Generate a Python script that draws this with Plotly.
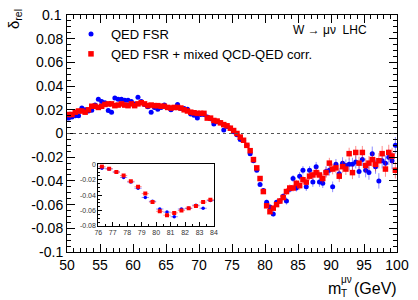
import plotly.graph_objects as go

# bin centres of m_T (GeV), 0.5 GeV bins
mt = [50.25 + 0.5 * i for i in range(100)]

qed_fsr = [
    0.013, 0.014, 0.015, 0.015, 0.0215, 0.020, 0.019, 0.0196, 0.024, 0.029,
    0.027, 0.026, 0.0195, 0.018, 0.030, 0.029, 0.029, 0.028, 0.028, 0.027,
    0.025, 0.0306, 0.027, 0.0245, 0.0225, 0.018, 0.022, 0.0205, 0.022, 0.024,
    0.022, 0.020, 0.022, 0.0245, 0.021, 0.021, 0.0205, 0.0165, 0.0155, 0.013,
    0.016, 0.016, 0.014, 0.0125, 0.008, 0.010, 0.009, 0.003, 0.006, 0.0045,
    0.0015, -0.001, -0.005, -0.006, -0.010, -0.017, -0.023, -0.031, -0.043, -0.048,
    -0.058, -0.062, -0.068, -0.058, -0.057, -0.053, -0.057, -0.047, -0.038, -0.046,
    -0.036, -0.031, -0.045, -0.031, -0.041, -0.028, -0.041, -0.042, -0.032, -0.031,
    -0.045, -0.026, -0.034, -0.025, -0.027, -0.026, -0.026, -0.024, -0.032, -0.022,
    -0.031, -0.033, -0.017, -0.028, -0.040, -0.023, -0.025, -0.020, -0.023, -0.010,
]

qed_fsr_mixed = [
    0.016, 0.016, 0.018, 0.019, 0.019, 0.018, 0.020, 0.023, 0.023, 0.022,
    0.023, 0.0245, 0.025, 0.025, 0.0235, 0.024, 0.025, 0.024, 0.0235, 0.025,
    0.0235, 0.025, 0.026, 0.025, 0.0235, 0.024, 0.0235, 0.0235, 0.023, 0.023,
    0.022, 0.0215, 0.022, 0.022, 0.0215, 0.020, 0.019, 0.018, 0.0175, 0.017,
    0.017, 0.017, 0.013, 0.013, 0.011, 0.0105, 0.009, 0.0075, 0.0065, 0.0045,
    0.0025, 0.000, -0.003, -0.0057, -0.010, -0.0145, -0.022, -0.029, -0.038, -0.049,
    -0.061, -0.066, -0.063, -0.060, -0.057, -0.054, -0.049, -0.046, -0.046, -0.042,
    -0.044, -0.039, -0.041, -0.036, -0.035, -0.033, -0.035, -0.038, -0.033, -0.025,
    -0.030, -0.029, -0.036, -0.028, -0.030, -0.017, -0.033, -0.016, -0.025, -0.016,
    -0.027, -0.025, -0.022, -0.026, -0.023, -0.017, -0.030, -0.016, -0.019, -0.031,
]

# statistical uncertainties
err = [
    0.0015, 0.0015, 0.0015, 0.0015, 0.0015, 0.0015, 0.0015, 0.0015, 0.0015, 0.0015,
    0.0015, 0.0015, 0.0015, 0.0015, 0.0015, 0.0015, 0.0015, 0.0015, 0.0015, 0.0015,
    0.0015, 0.0015, 0.0015, 0.0015, 0.0015, 0.0015, 0.0015, 0.0015, 0.0015, 0.0015,
    0.0015, 0.0015, 0.0015, 0.0015, 0.0015, 0.0015, 0.0015, 0.0015, 0.0015, 0.0015,
    0.0015, 0.0015, 0.0015, 0.0015, 0.0015, 0.0015, 0.0015, 0.0015, 0.0015, 0.0015,
    0.0015, 0.0015, 0.0015, 0.0015, 0.0015, 0.0015, 0.0015, 0.0015, 0.0015, 0.0015,
    0.002, 0.002, 0.002, 0.002, 0.0025, 0.0025, 0.003, 0.003, 0.003, 0.003,
    0.0035, 0.0035, 0.0035, 0.0035, 0.004, 0.004, 0.004, 0.004, 0.0045, 0.0045,
    0.0045, 0.0045, 0.005, 0.005, 0.005, 0.005, 0.0055, 0.0055, 0.0055, 0.0055,
    0.006, 0.006, 0.006, 0.006, 0.0065, 0.0065, 0.0065, 0.0065, 0.007, 0.007,
]

y_ticks = [0.1, 0.08, 0.06, 0.04, 0.02, 0, -0.02, -0.04, -0.06, -0.08, -0.1]
y_tick_text = ["0.1", "0.08", "0.06", "0.04", "0.02", "0", "-0.02", "-0.04", "-0.06", "-0.08", "-0.1"]
x_ticks = [50, 55, 60, 65, 70, 75, 80, 85, 90, 95, 100]
inset_x_ticks = [76, 77, 78, 79, 80, 81, 82, 83, 84]
inset_y_ticks = [0, -0.02, -0.04, -0.06, -0.08]
inset_y_text = ["0", "-0.02", "-0.04", "-0.06", "-0.08"]

FONT = "Liberation Sans, Arial, Helvetica, sans-serif"
BLUE = "#0000ff"
RED = "#ff0000"
BLUE_ERR = "rgba(0,0,255,0.45)"
RED_ERR = "rgba(255,0,0,0.45)"

W, H = 418, 300
# plot area in pixels: x 67..397, y 15..252
L, R, T, B = 67, 418 - 397, 15, 300 - 252
PW, PH = 330, 237


def px(x):
    """pixel x -> paper coordinate"""
    return (x - L) / PW


def py(y):
    """pixel y -> paper coordinate"""
    return (H - B - y) / PH


fig = go.Figure()

for name, vals, col, ecol, sym, size in [
    ("QED FSR", qed_fsr, BLUE, BLUE_ERR, "circle", 5),
    ("QED FSR + mixed QCD-QED corr.", qed_fsr_mixed, RED, RED_ERR, "square", 5.5),
]:
    fig.add_trace(go.Scatter(
        x=mt, y=vals, mode="markers", name=name,
        marker=dict(color=col, symbol=sym, size=size, line=dict(width=0)),
        error_y=dict(type="data", array=err, color=ecol, thickness=1, width=0, visible=True),
        error_x=dict(type="constant", value=0.25, color=ecol, thickness=1, width=0, visible=True),
    ))

# inset: same data zoomed to 76-84 GeV
for vals, col, ecol, sym, size in [
    (qed_fsr, BLUE, BLUE_ERR, "circle", 3.5),
    (qed_fsr_mixed, RED, RED_ERR, "square", 4),
]:
    fig.add_trace(go.Scatter(
        x=mt, y=vals, mode="markers", showlegend=False,
        marker=dict(color=col, symbol=sym, size=size, line=dict(width=0)),
        error_x=dict(type="constant", value=0.25, color=ecol, thickness=1, width=0),
        xaxis="x2", yaxis="y2",
    ))

# zero line
fig.add_shape(type="line", xref="x", yref="y", x0=50, x1=100, y0=0, y1=0,
              line=dict(color="#555555", width=1, dash="3px,3px"))

# the top tick label is written as a paper-anchored annotation (plotly drops the range-end label)
main_tick_text = [""] + y_tick_text[1:]

fig.update_layout(
    width=W, height=H,
    margin=dict(l=L, r=R, t=T, b=B, autoexpand=False),
    paper_bgcolor="white", plot_bgcolor="white",
    font=dict(family=FONT, size=13, color="black"),
    showlegend=True,
    legend=dict(x=px(71), y=py(19), xanchor="left", yanchor="top",
                bgcolor="rgba(0,0,0,0)", font=dict(size=13, family=FONT),
                itemwidth=30, tracegroupgap=0),
    xaxis=dict(domain=[0, 1], range=[50, 100], tickvals=x_ticks,
               ticks="inside", ticklen=8, tickwidth=1, tickcolor="black",
               showline=True, linecolor="black", linewidth=1, mirror="allticks",
               showgrid=False, zeroline=False, tickfont=dict(size=14),
               minor=dict(dtick=1, ticks="inside", ticklen=4, tickcolor="black", showgrid=False)),
    yaxis=dict(domain=[0, 1], range=[-0.1, 0.1], tickvals=y_ticks, ticktext=main_tick_text,
               ticks="inside", ticklen=8, tickwidth=1, tickcolor="black",
               showline=True, linecolor="black", linewidth=1, mirror="allticks",
               showgrid=False, zeroline=False, tickfont=dict(size=14),
               minor=dict(dtick=0.005, tick0=0, ticks="inside", ticklen=4, tickcolor="black", showgrid=False)),
    xaxis2=dict(domain=[px(98.3), px(214)], anchor="y2", range=[76, 84], tickvals=inset_x_ticks,
                ticks="inside", ticklen=4, tickcolor="black", showline=True, linecolor="black",
                mirror=True, showgrid=False, zeroline=False, tickfont=dict(size=7, color="#333"),
                minor=dict(dtick=0.5, ticks="inside", ticklen=2, tickcolor="black")),
    yaxis2=dict(domain=[py(226), py(164.3)], anchor="x2", range=[-0.08, 0], tickvals=inset_y_ticks,
                ticktext=inset_y_text, ticks="inside", ticklen=4, tickcolor="black", showline=True,
                linecolor="black", mirror=True, showgrid=False, zeroline=False,
                tickfont=dict(size=7, color="#333"),
                minor=dict(dtick=0.005, tick0=0, ticks="inside", ticklen=2, tickcolor="black")),
)

ann = [
    dict(text=y_tick_text[0], x=px(64), y=1.0, xanchor="right", font=dict(size=14)),
    dict(text="δ<sub>rel</sub>", x=px(14), y=py(19), textangle=-90, font=dict(size=15)),
    dict(text="W → μν  LHC", x=px(291), y=py(30), xanchor="left", font=dict(size=12)),
    dict(text="m", x=px(326), y=py(288), xanchor="left", font=dict(size=16)),
    dict(text="T", x=px(339), y=py(293), xanchor="left", font=dict(size=10)),
    dict(text="μν", x=px(338.5), y=py(279), xanchor="left", font=dict(size=10)),
    dict(text="(GeV)", x=px(352), y=py(288), xanchor="left", font=dict(size=16)),
]
for a in ann:
    a.update(xref="paper", yref="paper", showarrow=False)
    a.setdefault("xanchor", "center")
    a.setdefault("yanchor", "middle")
    fig.add_annotation(**a)

# remove the default 8px page margin so the 418x300 figure fills the window
fig.write_html("out.html", config={"displayModeBar": False},
               post_script="document.body.style.margin='0';document.body.style.overflow='hidden';")
